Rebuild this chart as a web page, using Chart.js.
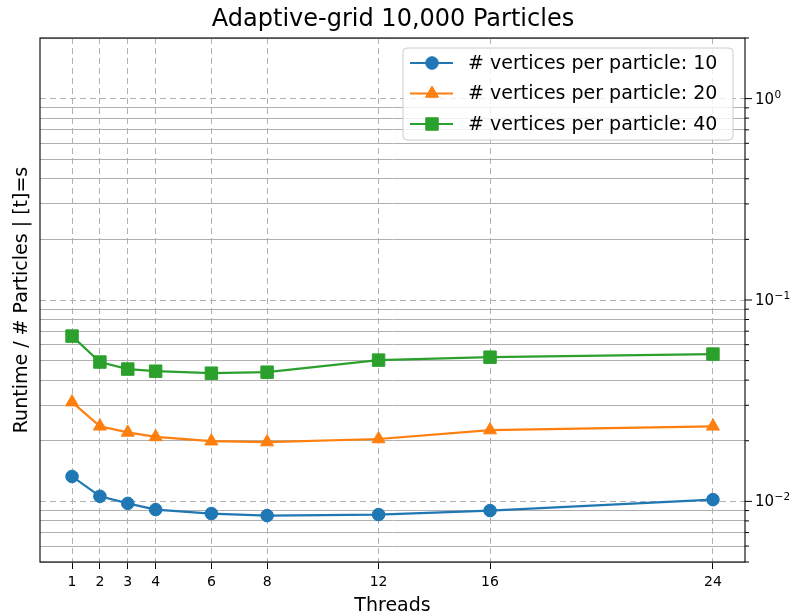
<!DOCTYPE html>
<html><head><meta charset="utf-8">
<script src="https://cdn.jsdelivr.net/npm/chart.js@4/dist/chart.umd.min.js"></script>
<style>html,body{margin:0;padding:0;background:#fff}#wrap{width:795px;height:616px}</style>
</head><body><div id="wrap"><canvas id="c" width="795" height="616"></canvas></div>
<script>
const threads = [1, 2, 3, 4, 6, 8, 12, 16, 24];
const runtime10 = [0.0133, 0.0106, 0.00977, 0.0091, 0.0087, 0.0085, 0.0086, 0.0090, 0.0102];
const runtime20 = [0.0311, 0.0236, 0.0220, 0.0209, 0.0199, 0.0197, 0.0204, 0.0226, 0.0236];
const runtime40 = [0.0662, 0.0492, 0.0454, 0.0443, 0.0433, 0.0438, 0.0503, 0.0520, 0.0539];
const seriesLabels = ['# vertices per particle: 10', '# vertices per particle: 20', '# vertices per particle: 40'];
const xTickValues = [1, 2, 3, 4, 6, 8, 12, 16, 24];
const yTickValues = [0.005, 0.006, 0.007, 0.008, 0.009, 0.01, 0.02, 0.03, 0.04, 0.05, 0.06, 0.07, 0.08, 0.09,
  0.1, 0.2, 0.3, 0.4, 0.5, 0.6, 0.7, 0.8, 0.9, 1, 2];
const yMajorTicks = [0.01, 0.1, 1];
const yTickBase = '10';
const yTickExponents = ['\u22122', '\u22121', '0'];

Chart.defaults.font.family = 'DejaVu Sans';
Chart.defaults.color = '#000';

function pts(arr) { return threads.map((t, i) => ({ x: t, y: arr[i] })); }

const frameAndLegend = {
  id: 'frameAndLegend',
  afterDatasetsDraw(chart) {
    const ctx = chart.ctx, a = chart.chartArea;
    ctx.save();
    ctx.strokeStyle = '#000';
    ctx.lineWidth = 1.1;
    ctx.strokeRect(a.left, a.top, a.right - a.left, a.bottom - a.top);
    // right-axis tick marks and power-of-ten labels
    const ys = chart.scales.y;
    ys.ticks.forEach(t => {
      const py = ys.getPixelForValue(t.value);
      const k = yMajorTicks.indexOf(t.value);
      ctx.beginPath();
      ctx.lineWidth = 1;
      ctx.strokeStyle = '#000';
      ctx.moveTo(a.right, py);
      ctx.lineTo(a.right + (k >= 0 ? 7 : 4), py);
      ctx.stroke();
      if (k >= 0) {
        ctx.fillStyle = '#000';
        ctx.textAlign = 'left';
        ctx.textBaseline = 'middle';
        ctx.font = '15px "DejaVu Sans"';
        const bx = a.right + 10;
        ctx.fillText(yTickBase, bx, py + 1);
        const bw = ctx.measureText(yTickBase).width;
        ctx.font = '10.5px "DejaVu Sans"';
        ctx.textBaseline = 'alphabetic';
        ctx.fillText(yTickExponents[k], bx + bw + 0.5, py - 1);
      }
    });
    // legend inside upper right
    const w = 330, h = 92;
    const x0 = a.right - 12 - w, y0 = a.top + 10;
    ctx.beginPath();
    const r = 4;
    ctx.moveTo(x0 + r, y0);
    ctx.arcTo(x0 + w, y0, x0 + w, y0 + h, r);
    ctx.arcTo(x0 + w, y0 + h, x0, y0 + h, r);
    ctx.arcTo(x0, y0 + h, x0, y0, r);
    ctx.arcTo(x0, y0, x0 + w, y0, r);
    ctx.closePath();
    ctx.fillStyle = 'rgba(255,255,255,0.8)';
    ctx.fill();
    ctx.strokeStyle = '#cccccc';
    ctx.lineWidth = 1;
    ctx.stroke();
    chart.data.datasets.forEach((ds, i) => {
      const cy = y0 + 15 + i * 30.5;
      ctx.strokeStyle = ds.borderColor;
      ctx.lineWidth = 2.2;
      ctx.beginPath();
      ctx.moveTo(x0 + 7, cy);
      ctx.lineTo(x0 + 50, cy);
      ctx.stroke();
      ctx.fillStyle = ds.backgroundColor;
      ctx.strokeStyle = ds.borderColor;
      ctx.lineWidth = 1;
      Chart.helpers.drawPoint(ctx, { pointStyle: ds.pointStyle, radius: ds.pointRadius, borderWidth: 1, rotation: 0 }, x0 + 29, cy);
      ctx.fillStyle = '#000';
      ctx.font = '19px "DejaVu Sans"';
      ctx.textBaseline = 'middle';
      ctx.textAlign = 'left';
      ctx.fillText(ds.label, x0 + 65, cy + 1);
    });
    ctx.restore();
  }
};

new Chart(document.getElementById('c'), {
  type: 'line',
  data: {
    datasets: [
      { label: seriesLabels[0], data: pts(runtime10), borderColor: '#1f77b4', backgroundColor: '#1f77b4',
        pointStyle: 'circle', pointRadius: 6.3, borderWidth: 2.2, pointBorderWidth: 1, tension: 0 },
      { label: seriesLabels[1], data: pts(runtime20), borderColor: '#ff7f0e', backgroundColor: '#ff7f0e',
        pointStyle: 'triangle', pointRadius: 7.5, borderWidth: 2.2, pointBorderWidth: 1, tension: 0 },
      { label: seriesLabels[2], data: pts(runtime40), borderColor: '#2ca02c', backgroundColor: '#2ca02c',
        pointStyle: 'rect', pointRadius: 8.8, borderWidth: 2.2, pointBorderWidth: 1, tension: 0 }
    ]
  },
  options: {
    responsive: false,
    animation: false,
    events: [],
    layout: { padding: { left: 0, right: 9, top: 0, bottom: 0 } },
    plugins: {
      legend: { display: false },
      tooltip: { enabled: false },
      title: {
        display: true,
        text: 'Adaptive-grid 10,000 Particles',
        font: { size: 24, weight: 'normal' },
        color: '#000',
        padding: { top: 5, bottom: 4.2 }
      }
    },
    scales: {
      x: {
        type: 'linear',
        min: -0.15, max: 25.15,
        afterBuildTicks: s => { s.ticks = xTickValues.map(v => ({ value: v })); },
        afterFit: s => { s.height = 54; },
        ticks: { autoSkip: false, maxRotation: 0, minRotation: 0, font: { size: 14 }, color: '#000', padding: 5,
          callback: v => String(v) },
        grid: { color: '#b0b0b0', lineWidth: 1, tickColor: '#000', tickLength: 7, drawTicks: true },
        border: { display: false, dash: [6, 4] },
        title: { display: true, text: 'Threads', font: { size: 19, lineHeight: 1 }, color: '#000', padding: { top: 0, bottom: 0 } }
      },
      y: {
        type: 'logarithmic',
        position: 'right',
        min: 0.005, max: 2,
        afterBuildTicks: s => { s.ticks = yTickValues.map(v => ({ value: v, major: yMajorTicks.includes(v) })); },
        afterFit: s => { s.width = 41; },
        ticks: { autoSkip: false, font: { size: 14 }, padding: 0, callback: () => '' },
        grid: { color: '#b0b0b0', lineWidth: 1, drawTicks: false },
        border: { display: false, dash: c => (c.tick && yMajorTicks.includes(c.tick.value)) ? [6, 4] : [] }
      },
      yl: {
        type: 'logarithmic',
        position: 'left',
        min: 0.005, max: 2,
        ticks: { display: false },
        grid: { display: false, drawTicks: false },
        border: { display: false },
        afterFit: s => { s.width = 40; },
        title: { display: true, text: 'Runtime / # Particles | [t]=s', font: { size: 19, lineHeight: 1 }, color: '#000', padding: { top: 13, bottom: 0 } }
      }
    }
  },
  plugins: [frameAndLegend]
});
</script>
</body></html>
